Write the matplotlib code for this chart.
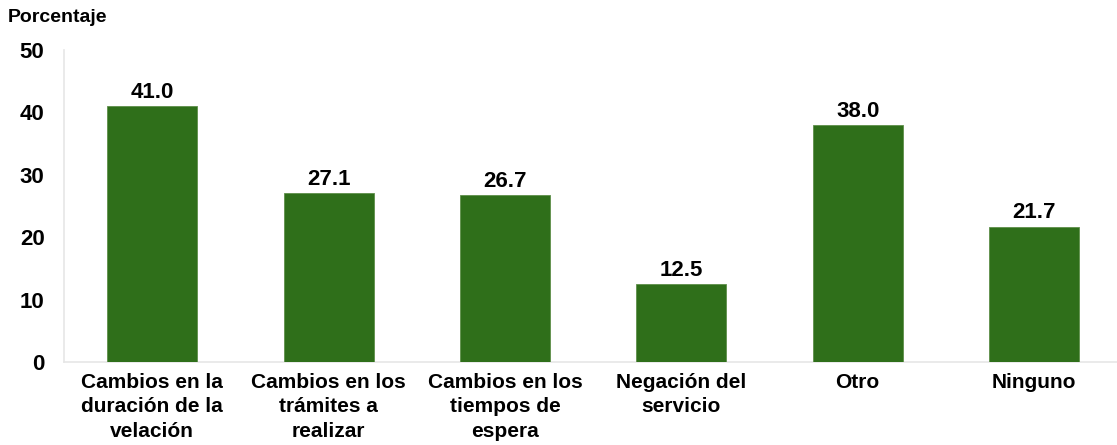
import matplotlib
matplotlib.use("Agg")
import matplotlib.pyplot as plt

categories = ["Cambios en la\nduración de la\nvelación", "Cambios en los\ntrámites a\nrealizar",
              "Cambios en los\ntiempos de\nespera", "Negación del\nservicio", "Otro", "Ninguno"]
values = [41.0, 27.1, 26.7, 12.5, 38.0, 21.7]
yticks = [0, 10, 20, 30, 40, 50]

plt.rcParams['font.family'] = ['Liberation Sans', 'DejaVu Sans']
plt.rcParams['font.weight'] = 'bold'

fig = plt.figure(figsize=(11.17, 4.45), dpi=100)
ax = fig.add_axes([64/1117, 83/445, 1 - 64/1117, 312/445])
x = list(range(len(categories)))
ax.bar(x, values, width=0.51, color='#2F6F1A', edgecolor='#5E8F4A', linewidth=0.6, zorder=3)
for xi, v in zip(x, values):
    ax.text(xi, v + 0.5, f"{v:.1f}", ha='center', va='bottom', fontsize=16, fontweight='bold')

ax.set_xlim(-0.5, 5.47)
ax.set_ylim(0, 50)
ax.set_yticks(yticks)
ax.set_yticklabels([str(t) for t in yticks], fontsize=16, fontweight='bold')
ax.set_xticks(x)
ax.set_xticklabels(categories, fontsize=15, fontweight='bold', linespacing=1.35)
ax.tick_params(axis='both', length=0)
ax.tick_params(axis='y', pad=14)
ax.tick_params(axis='x', pad=8)
for s in ['top', 'right']:
    ax.spines[s].set_visible(False)
ax.spines['left'].set_color('#E6E6E6')
ax.spines['bottom'].set_color('#E6E6E6')
ax.spines['left'].set_linewidth(1.2)
ax.spines['bottom'].set_linewidth(1.2)

fig.text(8/1117, 1 - 18/445, "Porcentaje", fontsize=14, fontweight='bold', va='center', ha='left')

fig.savefig("out.png", dpi=100)
